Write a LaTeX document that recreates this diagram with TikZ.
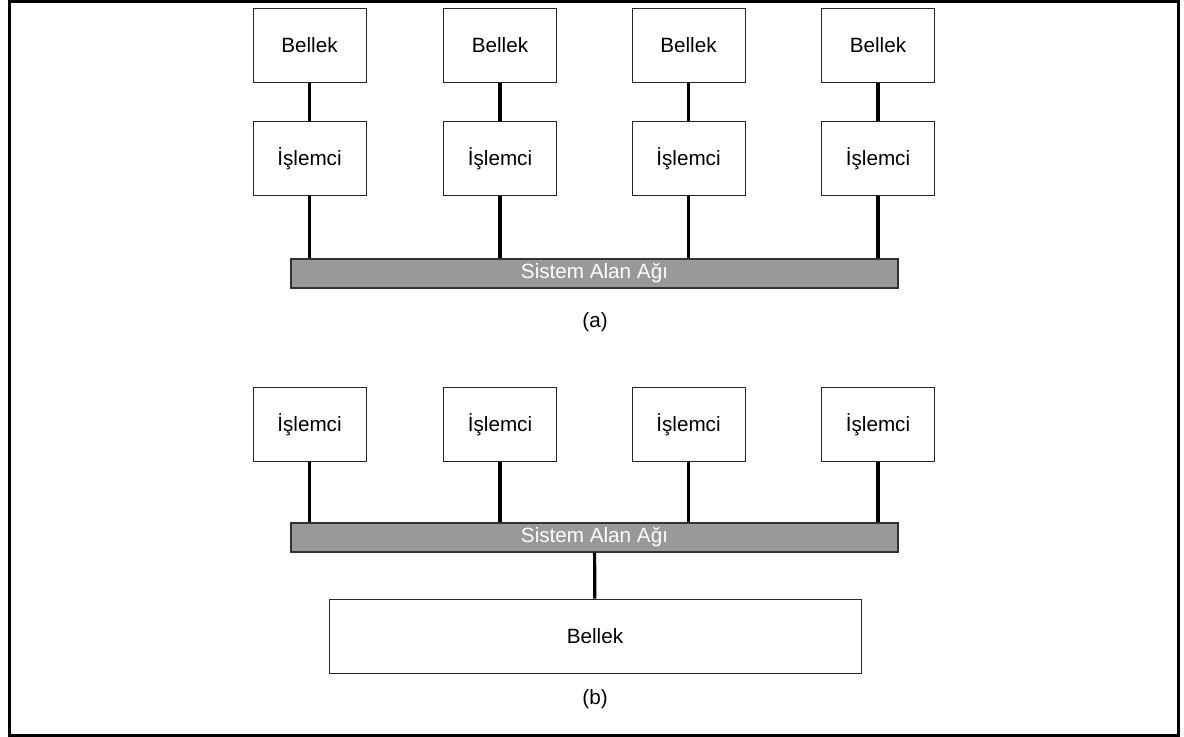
\documentclass[tikz,border=0pt]{standalone}
\usepackage{fontspec}
\setmainfont{Liberation Sans}
\usetikzlibrary{positioning}

\tikzset{
  kutu/.style={draw=black!85, line width=0.6pt, fill=white, minimum width=84.75pt, minimum height=55.5pt, inner sep=0pt},
  yol/.style={draw=black!80, line width=1pt, fill=black!40, text=white, minimum width=455.25pt, minimum height=21.75pt, inner sep=0pt},
  hat/.style={line width=2.4pt, black}
}

\begin{document}
\begin{tikzpicture}[x=0.75pt, y=-0.75pt, font=\fontsize{15.5}{18}\selectfont]

\useasboundingbox (0,0) rectangle (1184,737);
\draw [line width=2.25pt] (9,1.5) rectangle (1178,735);

% (a)
\node [yol] (busa) at (594.5,273.5) {Sistem Alan Ağı};

\foreach \n/\x in {1/309.5,2/500,3/688.5,4/878} {
    \node [kutu] (b\n) at (\x,45.5) {Bellek};
    \node [kutu] (i\n) at (\x,158.5) {İşlemci};
    \draw [hat] (b\n) -- (i\n);
    \draw [hat] (i\n) -- (i\n |- busa.north);
}

\node (la) at (595,322) {(a)};

% (b)
\node [yol] (busb) at (594.5,537.5) {Sistem Alan Ağı};

\foreach \n/\x in {1/309.5,2/500,3/688.5,4/878} {
    \node [kutu] (j\n) at (\x,424.5) {İşlemci};
    \draw [hat] (j\n) -- (j\n |- busb.north);
}

\node [kutu, minimum width=399pt] (mem) at (595,636) {Bellek};
\draw [hat] (busb) -- (mem);

\node (lb) at (595,699) {(b)};

\end{tikzpicture}
\end{document}
